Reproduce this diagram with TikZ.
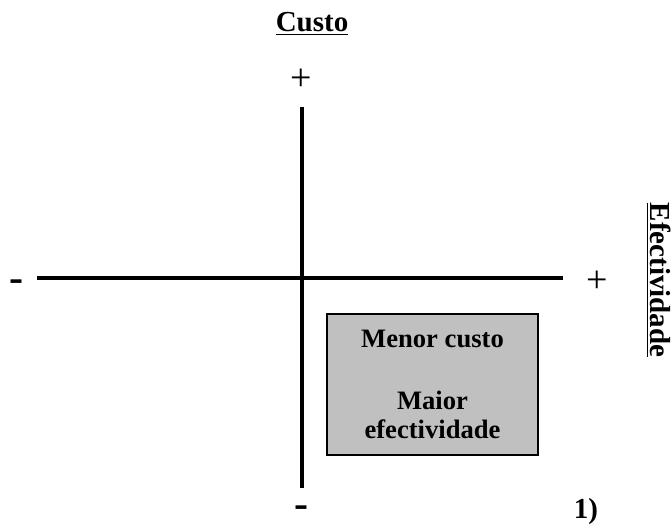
\documentclass[tikz,border=0pt]{standalone}
\usepackage{fontspec}
\setmainfont{Liberation Serif}
\definecolor{boxgray}{HTML}{C0C0C0}
\tikzset{
    axis/.style={line width=2pt},
    label/.style={font=\bfseries\fontsize{14.5}{16}\selectfont, inner sep=0pt},
    sign/.style={font=\fontsize{19}{20}\selectfont, inner sep=0pt},
    minus/.style={font=\bfseries\fontsize{21}{22}\selectfont, inner sep=0pt, anchor=base},
    quadrant/.style={draw, line width=0.8pt, fill=boxgray, inner sep=0pt,
        minimum width=105.5pt, minimum height=70.5pt, align=center,
        font=\bfseries\fontsize{13.3}{14.5}\selectfont}
}
\begin{document}
\begin{tikzpicture}[x=0.5pt,y=-0.5pt]
            \useasboundingbox (0,0) rectangle (672,526);
            \coordinate (W) at (37,278);
            \coordinate (E) at (563,278);
            \coordinate (N) at (302,107);
            \coordinate (S) at (302,488);
            \begin{scope}[every node/.style={label}]
                \node (custo) at (312,24) {\underline{Custo}};
                \node[rotate=-90] (efect) at (659,280) {\underline{Efectividade}};
                \node (num) at (586,512) {1)};
            \end{scope}
            \begin{scope}[every node/.style={sign}]
                \node (top) at (301.5,80) {+};
                \node (right) at (597,282) {+};
            \end{scope}
            \begin{scope}[every node/.style={minus}]
                \node (left) at (16,291) {-};
                \node (bottom) at (301,517) {-};
            \end{scope}
            \node[quadrant] (box) at (432.5,384.5) {Menor custo\\[16.5pt]Maior\\efectividade};
            \begin{scope}[every path/.style={axis}]
                \path
                    (W) edge (E)
                    (N) edge (S);
            \end{scope}
        \end{tikzpicture}
\end{document}
